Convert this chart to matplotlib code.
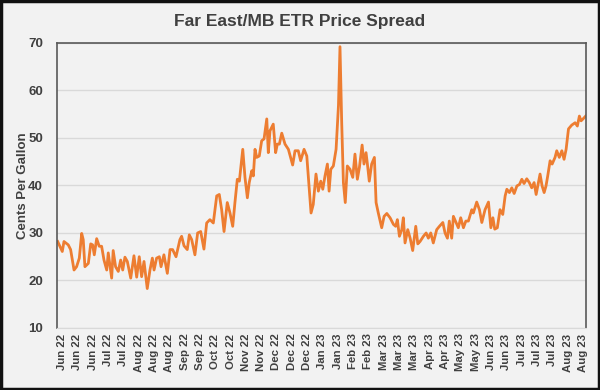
import matplotlib
matplotlib.use("Agg")
import matplotlib.pyplot as plt
from matplotlib.patches import Rectangle

plt.rcParams['font.family'] = ['Liberation Sans', 'DejaVu Sans']

# x in business-day units (tick every 9 units), y in cents per gallon
day = [-2.5, 0.2, 1.2, 3.7, 5.1, 7.1, 8.6, 10.2, 11.6, 12.5, 13.5, 15.5, 16.9, 18.0, 19.0,
       20.4, 21.9, 23.3, 24.7, 26.3, 27.2, 29.2, 30.1, 31.5, 33.1, 34.5, 35.7, 37.0, 38.4,
       40.4, 42.3, 43.9, 45.4, 46.8, 48.2, 50.1, 51.7, 53.1, 54.1, 55.6, 57.2, 58.2, 59.9,
       61.9, 63.5, 65.0, 67.0, 69.3, 70.3, 71.7, 73.6, 74.8, 76.2, 78.1, 79.7, 81.5, 83.4,
       85.0, 86.9, 88.9, 90.9, 92.4, 93.8, 95.2, 97.1, 98.7, 100.3, 101.6, 103.0, 104.2,
       106.2, 107.5, 108.9,
       110.0, 111.5, 112.4, 113.4, 114.4, 115.9, 117.3, 118.7, 120.3, 121.2, 122.2, 124.1,
       125.5, 126.5, 127.7, 129.1, 131.0, 133.0, 135.5, 136.9, 138.8, 140.2, 142.2, 143.8,
       145.1, 146.3, 147.6, 149.2, 150.6, 152.0, 153.2, 154.5, 155.9, 156.9, 157.9, 159.4,
       161.0, 162.4, 163.3, 164.3, 165.3, 166.4, 167.6, 169.2, 170.8, 172.1, 173.5, 174.7,
       176.3, 177.4, 178.6, 179.4, 180.5, 181.9, 183.5, 184.5, 185.8, 187.8, 189.2, 190.8,
       192.7, 194.7, 196.0, 197.0, 198.2, 199.6, 200.5, 201.5, 203.1, 204.5, 206.0, 207.8,
       209.0, 210.3,
       212.3, 213.9, 215.2, 216.6, 218.1, 220.1, 221.7, 223.7, 225.0, 226.4, 227.5, 228.9,
       229.9, 231.5, 232.8, 234.2, 235.8, 237.2, 238.7, 240.7, 241.6, 243.6, 245.2, 246.6,
       248.5, 250.5, 251.9, 253.1, 254.2, 255.7, 257.3, 258.9, 260.3, 261.3, 262.8, 264.2,
       265.6, 267.2, 268.7, 270.1, 271.4, 273.0, 274.5, 275.9, 277.3, 278.5, 279.8, 280.8,
       282.0, 283.2, 284.3, 285.3, 286.7, 287.9, 289.6, 290.6, 292.1, 293.6, 294.9, 296.1,
       297.5, 299.4, 301.4, 302.7, 303.9, 304.9, 306.3, 307.6]

spread = [28.2, 26.1, 28.2, 27.5, 26.5, 22.2, 22.9, 24.7, 29.9, 28.6, 22.9, 23.6, 27.7, 27.5, 25.4,
          28.8, 27.2, 27.2, 24.3, 22.2, 25.8, 20.5, 26.3, 22.9, 21.9, 24.3, 22.2, 24.9, 24.0,
          20.5, 25.2, 20.7, 25.0, 20.8, 24.0, 18.3, 22.2, 24.7, 22.2, 24.7, 25.0, 22.9, 25.4,
          21.5, 26.5, 26.5, 25.0, 28.6, 29.3, 27.3, 26.5, 29.6, 28.6, 25.4, 30.0, 30.3, 26.6,
          32.1, 32.8, 32.1, 37.8, 38.1, 34.9, 30.3, 36.4, 34.2, 31.4, 36.4, 41.3, 40.9,
          47.6, 41.7, 37.4,
          40.6, 43.1, 42.0, 47.6, 45.9, 46.2, 49.4, 49.8, 54.0, 46.9, 51.5, 52.9,
          46.9, 48.7, 48.7, 51.0, 48.7, 47.6, 44.3, 47.3, 47.3, 45.2, 47.6, 46.2,
          39.9, 34.2, 36.0, 42.4, 38.8, 40.9, 39.2, 42.0, 44.5, 38.8, 43.4, 44.1,
          47.6, 56.8, 69.2, 53.3, 40.6, 36.4, 44.1, 43.4, 41.7, 46.6, 41.3, 43.8,
          48.5, 44.5, 46.9, 44.5, 40.9, 44.5, 45.9, 36.4, 34.2, 31.1, 33.5, 34.1,
          33.2, 31.8, 31.4, 32.8, 29.3, 30.7, 33.2, 27.9, 30.7, 28.9, 26.3, 31.4,
          27.7, 28.2,
          29.3, 30.0, 28.9, 30.0, 27.9, 30.7, 31.4, 32.2, 30.0, 28.9, 32.5, 28.9,
          33.5, 32.2, 31.1, 33.2, 31.1, 32.5, 32.5, 34.9, 34.2, 36.5, 34.9, 32.2,
          34.9, 36.5, 31.1, 33.2, 30.8, 31.1, 34.9, 33.9, 37.8, 39.2, 38.5, 39.5,
          38.3, 39.9, 40.2, 41.3, 40.4, 41.4, 40.6, 39.5, 40.6, 38.1, 40.6, 42.4,
          39.9, 38.5, 39.9, 42.0, 45.2, 44.5, 45.9, 47.3, 45.9, 47.3, 45.5, 47.6,
          51.9, 52.7, 53.2, 52.5, 54.6, 53.6, 54.1, 54.6]

tick_labels = ["Jun 22", "Jun 22", "Jun 22", "Jul 22", "Jul 22", "Aug 22", "Aug 22", "Aug 22",
               "Sep 22", "Sep 22", "Oct 22", "Oct 22", "Nov 22", "Nov 22", "Dec 22", "Dec 22",
               "Dec 22", "Jan 23", "Jan 23", "Feb 23", "Feb 23", "Mar 23", "Mar 23", "Mar 23",
               "Apr 23", "Apr 23", "May 23", "May 23", "Jun 23", "Jun 23", "Jul 23", "Jul 23",
               "Jul 23", "Aug 23", "Aug 23"]
tick_step = 9

bg = "#f2f2f2"
txt = "#404040"

fig = plt.figure(figsize=(6, 3.9), dpi=100, facecolor=bg)
ax = fig.add_axes([0.095, 0.159, 0.882, 0.731], facecolor=bg)

ax.plot(day, spread, color="#ed7d31", linewidth=2.0, solid_joinstyle="round")

ax.set_xlim(-2.9, 307.9)
ax.set_ylim(10, 70)
ax.set_yticks(range(10, 71, 10))
ax.set_xticks([i * tick_step for i in range(len(tick_labels))])
ax.set_xticklabels(tick_labels, rotation=90, fontsize=8.2, fontweight="bold", color=txt)
for lab in ax.get_yticklabels():
    lab.set_fontsize(9.5)
    lab.set_fontweight("bold")
    lab.set_color(txt)
ax.tick_params(axis="x", length=0, pad=4)
ax.tick_params(axis="y", length=0, pad=10)

ax.grid(axis="y", color="#d9d9d9", linewidth=1)
ax.set_axisbelow(True)
for side in ["left", "top", "right"]:
    ax.spines[side].set_color("#595959")
    ax.spines[side].set_linewidth(1.2)
ax.spines["bottom"].set_color("#d9d9d9")

fig.text(0.038, 0.159 + 0.731 / 2, "Cents Per Gallon", rotation=90, ha="center", va="center",
         fontsize=9.5, fontweight="bold", color=txt)
fig.text(0.5, 0.944, "Far East/MB ETR Price Spread", ha="center", va="center",
         fontsize=12.5, fontweight="bold", color=txt)

fig.patches.append(Rectangle((0.002, 0.003), 0.996, 0.994, transform=fig.transFigure,
                             fill=False, edgecolor="#111111", linewidth=2.5))

fig.savefig("out.png", dpi=100, facecolor=bg)
